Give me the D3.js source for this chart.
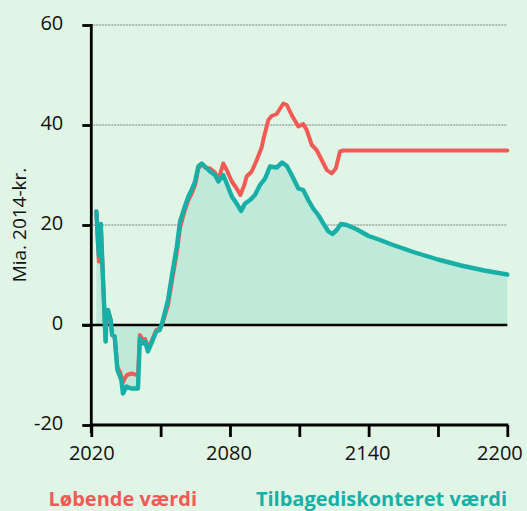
<!DOCTYPE html>
<html><head><meta charset="utf-8">
<script src="https://cdn.jsdelivr.net/npm/d3@7"></script>
<style>
html,body{margin:0;padding:0;background:#e0f5e5;}
svg{display:block;}
</style></head>
<body>
<svg id="c" width="527" height="511"></svg>
<script>
// ---- data ----
const tealYears = [2022.2,2023.0,2023.3,2023.6,2024.1,2025,2026.2,2026.6,2027.2,2028.4,2029,2030.1,2031.3,2033,2033.7,2035.2,2037.3,2040.2,2041,2042.4,2043.3,2044.5,2046,2048.1,2049.6,2050.6,2053.2,2054.8,2057,2058.4,2060.5,2062,2063.4,2064.9,2066.3,2067.8,2069.2,2071.4,2073.5,2075,2077.1,2078.6,2080.8,2082.9,2084.8,2086.5,2088.7,2090.8,2093,2095.2,2097.3,2100.2,2102.6,2104.6,2106.7,2109.6,2111.7,2113.9,2116,2118.2,2120.4,2122.6,2124.3,2126.2,2128,2130.5,2135,2140,2145,2150,2155,2160,2165,2170,2175,2180,2185,2190,2195,2200];
const tealValues = [22.7,16,14,19,20.2,10,-3.3,2.5,3,1,-2,-2.3,-9,-11,-13.7,-12.3,-12.7,-12.7,-2.7,-3.7,-3.3,-5.3,-3.7,-1.3,-1,0.3,5,9.7,15.7,20.7,23.7,25.7,27,28.7,31.7,32.3,31.7,30.7,30,28.7,30,28.3,25.7,24.3,22.8,24.3,25,26,28,29.3,31.7,31.5,32.5,31.8,30,27.3,27,25,23.3,22,20.3,18.7,18.2,19,20.2,20,19.1,17.8,17.0,16.1,15.3,14.5,13.8,13.1,12.5,11.9,11.4,10.9,10.5,10.1];
const redYears = [2022.2,2023.0,2023.3,2023.6,2024.1,2025,2026.2,2026.6,2027.2,2028.4,2029,2030.1,2031.3,2032.5,2033.7,2034.4,2035.5,2037.3,2039.8,2040.2,2041,2042.4,2043.3,2044.5,2046,2048.1,2049.6,2050.6,2053.2,2054.8,2057,2058.4,2060.5,2062,2063.4,2064.9,2066.3,2067.8,2069.2,2071.4,2073.5,2074.5,2075.5,2077.1,2078.6,2080.8,2082.9,2084.5,2086.2,2087.2,2089.4,2091.6,2093.7,2094.4,2096.6,2098,2100.2,2103.1,2104.6,2106.7,2109.6,2111.7,2113.2,2115.4,2117.5,2119.7,2121.9,2124,2125.8,2127.6,2129,2200];
const redValues = [22.7,15,12.7,18.5,20.2,10,-3.3,2.5,3,1,-2,-2.3,-8.5,-9.5,-11.5,-10.7,-10,-9.7,-10,-10.2,-2,-3,-2.8,-4.7,-3.3,-1,-0.7,0,4,8.5,14.5,19.5,23,25,26.3,28,31.3,32.2,31.5,31.3,30.5,29.5,29.8,32.3,31,28.7,27.3,26,28,29.7,30.7,33,35.5,37,41,41.8,42.2,44.3,44,42,39.7,40.2,39,36,35,33,31,30.3,31.3,34.7,34.9,34.9];
const yTicks = [-20,0,20,40,60];
const gridValues = [20,40,60];
const xTicks = [2020,2050,2080,2110,2140,2170,2200];
const xLabels = [2020,2080,2140,2200];
const legendLabels = ["Løbende værdi","Tilbagediskonteret værdi"];
const yTitle = "Mia. 2014-kr.";

// ---- style ----
const RED = "#f25a56", TEAL = "#17afa6", AREA = "#bfe9d8", BG = "#e0f5e5";
const svg = d3.select("#c");
svg.append("rect").attr("width",527).attr("height",511).attr("fill",BG);

const x = d3.scaleLinear().domain([2020,2200]).range([91.3,507.3]);
const y = d3.scaleLinear().domain([-20,60]).range([425,25]);

const teal = tealYears.map((d,i)=>({x:d,y:tealValues[i]}));
const red = redYears.map((d,i)=>({x:d,y:redValues[i]}));

// gridlines
svg.append("g").selectAll("line").data(gridValues).join("line")
  .attr("x1",x(2020)+2).attr("x2",x(2200))
  .attr("y1",d=>y(d)).attr("y2",d=>y(d))
  .attr("stroke","#7d827d").attr("stroke-width",1.2).attr("stroke-dasharray","2,1");

// area
svg.append("path").datum(teal)
  .attr("d",d3.area().x(d=>x(d.x)).y0(y(0)).y1(d=>y(d.y)))
  .attr("fill",AREA);

// zero line
svg.append("line").attr("x1",82).attr("x2",x(2200)).attr("y1",y(0)).attr("y2",y(0))
  .attr("stroke","#000").attr("stroke-width",2.6);

const line = d3.line().x(d=>x(d.x)).y(d=>y(d.y));
svg.append("path").datum(red).attr("d",line).attr("fill","none")
  .attr("stroke",RED).attr("stroke-width",4).attr("stroke-linejoin","round").attr("stroke-linecap","round");
svg.append("path").datum(teal).attr("d",line).attr("fill","none")
  .attr("stroke",TEAL).attr("stroke-width",4.4).attr("stroke-linejoin","round").attr("stroke-linecap","round");

// y axis
const yAxis = d3.axisLeft(y).tickValues(yTicks).tickSize(9).tickSizeOuter(0).tickPadding(10).tickFormat(d=>String(d));
const gy = svg.append("g").attr("transform",`translate(${x(2020)},0)`).call(yAxis);
gy.select(".domain").remove();
gy.selectAll(".tick line").attr("stroke","#000").attr("stroke-width",2.8);
gy.selectAll(".tick text").attr("font-family","Open Sans").attr("font-size",20).attr("fill","#111").attr("dy","0.2em").attr("x",-28);
svg.append("line").attr("x1",x(2020)).attr("x2",x(2020)).attr("y1",y(60)-1).attr("y2",433)
  .attr("stroke","#000").attr("stroke-width",2.8);

// x axis
const xAxis = d3.axisBottom(x).tickValues(xTicks).tickSize(12).tickSizeOuter(0).tickPadding(9)
  .tickFormat(d=>xLabels.includes(d)?String(d):"");
const gx = svg.append("g").attr("transform",`translate(0,${y(-20)})`).call(xAxis);
gx.select(".domain").attr("stroke","#000").attr("stroke-width",2.8).attr("d",`M${x(2020)-1},0H${x(2200)+1}`);
gx.selectAll(".tick line").attr("stroke","#000").attr("stroke-width",2.8);
gx.selectAll(".tick text").attr("font-family","Open Sans").attr("font-size",20).attr("fill","#111");
gx.selectAll(".tick").filter(d=>d===2200).select("text").attr("text-anchor","end").attr("x",15);
gx.selectAll(".tick").filter(d=>d===2080).select("text").attr("x",-1.5);
gx.selectAll(".tick").filter(d=>d===2140).select("text").attr("x",-1.5);

// y title
svg.append("text").attr("transform","translate(26,225) rotate(-90)").attr("text-anchor","middle")
  .attr("font-family","Open Sans").attr("font-size",19).attr("fill","#111").text(yTitle);

// legend
svg.append("text").attr("x",48.5).attr("y",506).attr("font-family","Open Sans").attr("font-weight",700)
  .attr("font-size",20).attr("fill",RED).text(legendLabels[0]);
svg.append("text").attr("x",507).attr("y",506).attr("text-anchor","end").attr("font-family","Open Sans").attr("font-weight",700)
  .attr("font-size",20).attr("fill",TEAL).text(legendLabels[1]);
</script>
</body></html>
